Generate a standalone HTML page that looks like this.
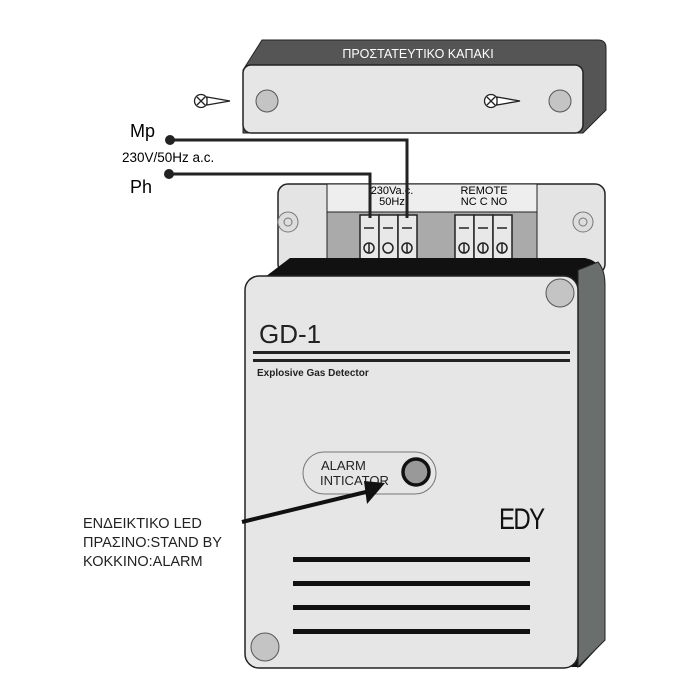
<!DOCTYPE html>
<html><head><meta charset="utf-8"><style>
html,body{margin:0;padding:0;background:#fff;}
svg{display:block;font-family:"Liberation Sans",Arial,sans-serif;}
</style></head><body>
<svg width="700" height="700" viewBox="0 0 700 700" xmlns="http://www.w3.org/2000/svg">
<!-- Cover -->
<path d="M243,70 L262,40 L598,40 Q606,40 606,48 L606,110 L583,133 L243,133 Z" fill="#555" stroke="#222" stroke-width="1"/>
<rect x="243" y="65" width="340" height="68" rx="8" fill="#e6e6e6" stroke="#222" stroke-width="1.5"/>
<text x="418" y="58" font-size="12.5" fill="#fff" text-anchor="middle">ΠΡΟΣΤΑΤΕΥΤΙΚΟ ΚΑΠΑΚΙ</text>
<circle cx="267" cy="101" r="11" fill="#c4c4c4" stroke="#555"/>
<circle cx="560" cy="101" r="11" fill="#c4c4c4" stroke="#555"/>
<!-- screws -->
<g stroke="#222" stroke-width="1.3" fill="#fff">
<circle cx="201" cy="101" r="6.5"/><path d="M197,97 L205,105 M205,97 L197,105"/>
<path d="M207,97 L230,101 L207,105 Z"/>
<circle cx="491" cy="101" r="6.5"/><path d="M487,97 L495,105 M495,97 L487,105"/>
<path d="M497,97 L520,101 L497,105 Z"/>
</g>
<!-- back plate -->
<rect x="278" y="184" width="327" height="90" rx="10" fill="#e4e4e4" stroke="#222" stroke-width="1.5"/>
<rect x="327" y="184" width="210" height="28" fill="#eee" stroke="#222"/>
<rect x="327" y="212" width="210" height="48" fill="#aaa" stroke="#222"/>
<circle cx="288" cy="222" r="10" fill="#ddd" stroke="#777"/><circle cx="288" cy="222" r="4" fill="none" stroke="#777"/>
<circle cx="583" cy="222" r="10" fill="#ddd" stroke="#777"/><circle cx="583" cy="222" r="4" fill="none" stroke="#777"/>
<text x="392" y="194" font-size="11" text-anchor="middle">230Va.c.</text>
<text x="392" y="205" font-size="11" text-anchor="middle">50Hz</text>
<text x="484" y="194" font-size="11" text-anchor="middle">REMOTE</text>
<text x="484" y="205" font-size="11" text-anchor="middle">NC  C  NO</text>
<g fill="#e8e8e8" stroke="#222" stroke-width="1.5">
<rect x="360" y="215" width="19" height="44"/><rect x="379" y="215" width="19" height="44"/><rect x="398" y="215" width="19" height="44"/>
<rect x="455" y="215" width="19" height="44"/><rect x="474" y="215" width="19" height="44"/><rect x="493" y="215" width="19" height="44"/>
</g>
<g stroke="#222" stroke-width="1.5" fill="none">
<circle cx="369" cy="248" r="5"/><circle cx="388" cy="248" r="5"/><circle cx="407" cy="248" r="5"/>
<circle cx="464" cy="248" r="5"/><circle cx="483" cy="248" r="5"/><circle cx="502" cy="248" r="5"/>
<path d="M364,228h10M383,228h10M402,228h10M459,228h10M478,228h10M497,228h10"/>
<path d="M369,243v10M407,243v10M464,243v10M483,243v10M502,243v10"/>
</g>
<!-- wires -->
<g stroke="#222" stroke-width="3" fill="none">
<path d="M170,140 H407 V218"/>
<path d="M169,174 H370 V218"/>
</g>
<circle cx="170" cy="140" r="5" fill="#222"/>
<circle cx="169" cy="174" r="5" fill="#222"/>
<text x="130" y="137" font-size="18">Mp</text>
<text x="122" y="162" font-size="13.5">230V/50Hz a.c.</text>
<text x="130" y="193" font-size="18">Ph</text>
<!-- device -->
<path d="M265,277 L290,258 L585,258 Q605,262 605,285 L605,640 L580,667 L265,667 Z" fill="#111"/>
<path d="M578,270 L598,262 Q605,270 605,285 L605,640 L578,667 Z" fill="#6a6e6c" stroke="#222"/>
<rect x="245" y="276" width="333" height="392" rx="14" fill="#e6e6e6" stroke="#222" stroke-width="1.5"/>
<circle cx="560" cy="293" r="14" fill="#c4c4c4" stroke="#555"/>
<circle cx="265" cy="647" r="14" fill="#c4c4c4" stroke="#555"/>
<text x="259" y="343" font-size="26" fill="#222">GD-1</text>
<rect x="253" y="351" width="317" height="3" fill="#222"/>
<rect x="253" y="359" width="317" height="3" fill="#222"/>
<text x="257" y="376" font-size="10" font-weight="bold" fill="#222">Explosive Gas Detector</text>
<rect x="303" y="452" width="133" height="42" rx="21" fill="#e6e6e6" stroke="#777"/>
<text x="321" y="470" font-size="13" fill="#222">ALARM</text>
<text x="320" y="485" font-size="13" fill="#222">INTICATOR</text>
<circle cx="416" cy="472" r="13" fill="#999" stroke="#111" stroke-width="3.5"/>
<text x="0" y="0" font-size="30" fill="#111" style="letter-spacing:-2px" transform="translate(499,529) scale(0.8,1)">EDY</text>
<g fill="#111">
<rect x="293" y="557" width="237" height="5"/>
<rect x="293" y="581" width="237" height="5"/>
<rect x="293" y="605" width="237" height="5"/>
<rect x="293" y="629" width="237" height="5"/>
</g>
<!-- arrow -->
<line x1="242" y1="522" x2="370" y2="491" stroke="#111" stroke-width="4"/>
<path d="M364,481 L385,483 L367,504 Z" fill="#111"/>
<text x="83" y="528" font-size="14.5" fill="#222">ΕΝΔΕΙΚΤΙΚΟ LED</text>
<text x="83" y="547" font-size="14.5" fill="#222">ΠΡΑΣΙΝΟ:STAND BY</text>
<text x="83" y="566" font-size="14.5" fill="#222">ΚΟΚΚΙΝΟ:ALARM</text>
</svg>
</body></html>
